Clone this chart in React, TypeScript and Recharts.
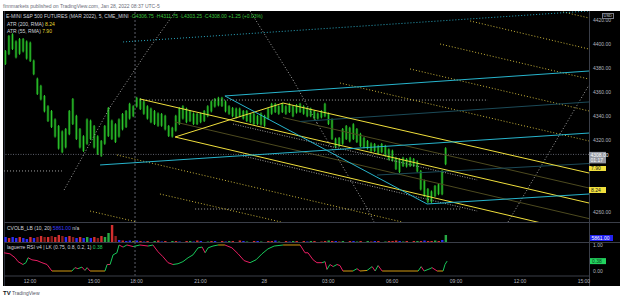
import React from 'react';
import { ComposedChart, Bar, Line, XAxis, YAxis, ReferenceLine, Cell } from 'recharts';

const FONT = '"Liberation Sans", Arial, Helvetica, sans-serif';

// ---------- time axis: hours from 12:00 Jan 27 (17:00-18:00 break removed)
const timeTicks = [0, 3, 5, 8, 11, 14, 17, 20, 23, 26];
const timeTickLabels = ['12:00', '15:00', '18:00', '21:00', '28', '03:00', '06:00', '09:00', '12:00', '15:00'];
const timeDomain: [number, number] = [-1.22, 26.24];
const firstBarHour = -7 / 6; // 10:50
const barStepHours = 1 / 6; // 10-minute bars
const crosshairHour = 4.93;

// ---------- price bars
const barHighs = [
  4395, 4407.5, 4409, 4403, 4405, 4405, 4403, 4402, 4387, 4372,
  4366, 4357.5, 4349, 4345, 4338, 4332.5, 4328, 4330, 4345, 4355,
  4341, 4330, 4324, 4338, 4337, 4332.5, 4324, 4320, 4332.5, 4347.5,
  4337, 4334, 4338, 4342.5, 4345, 4351, 4349, 4356, 4355, 4353,
  4349, 4347, 4345, 4343, 4342.5, 4341, 4332.5, 4331, 4341, 4347.5,
  4349, 4347, 4345, 4343, 4342.5, 4343, 4345, 4349, 4353, 4355,
  4356, 4356, 4353, 4349, 4347.5, 4347, 4347, 4345, 4345, 4342.5,
  4342.5, 4341, 4343, 4341, 4347, 4351, 4351, 4349, 4351, 4349,
  4351, 4349, 4350, 4351, 4349, 4347.5, 4347, 4345, 4343, 4345,
  4351, 4343, 4338, 4322, 4322.5, 4330, 4332.5, 4331, 4334, 4330,
  4326, 4322.5, 4320, 4318, 4317.5, 4316, 4317.5, 4316, 4313, 4312,
  4306, 4305, 4306, 4305, 4306, 4305, 4303, 4295, 4287, 4280,
  4278, 4282.5, 4284, 4295, 4314,
];
const barLows = [
  4382.5, 4390.75, 4395, 4388, 4391, 4393, 4387, 4385, 4374, 4357.5,
  4353, 4343, 4335, 4330, 4322, 4312, 4309, 4313, 4324, 4332.5,
  4320, 4313, 4310, 4316, 4320, 4313, 4307.5, 4306, 4316, 4322.5,
  4320, 4317.5, 4322, 4328, 4330, 4337, 4339, 4347, 4345, 4341,
  4337, 4334, 4332.5, 4331, 4331, 4328, 4322.5, 4322, 4327, 4332.5,
  4337, 4334, 4335, 4332.5, 4332.5, 4334, 4335, 4339, 4343, 4347,
  4348, 4347.5, 4343, 4341, 4339, 4338, 4339, 4337, 4335, 4334,
  4332.5, 4332.5, 4332, 4331, 4337, 4341, 4342.5, 4341, 4342.5, 4341,
  4342.5, 4339, 4342, 4342.5, 4341, 4339, 4339, 4337, 4337, 4338,
  4339, 4332.5, 4320, 4313, 4314, 4316, 4320, 4318, 4320, 4317.5,
  4314, 4313, 4312, 4310, 4310, 4307.5, 4309, 4306, 4303, 4302,
  4295, 4292.5, 4297.5, 4297, 4297.5, 4297.5, 4293, 4278, 4272.5, 4267.5,
  4267.5, 4272.5, 4274, 4274, 4299,
];
const lastClose = 4308;
// 4280 and 4300 are hidden behind the ATR / last-price badges in the reference
const priceTicks = [4260, 4320, 4340, 4360, 4380, 4400, 4420];
const priceDomain: [number, number] = [4251.67, 4427.5];
const atr200 = 8.24;
const atr55 = 7.9;

// ---------- CVOLB volume pane
const volumeValues = [
  5, 4, 5, 4, 5, 4, 3, 5, 4, 5,
  6, 5, 5, 6, 5, 7, 6, 5, 6, 5,
  4, 5, 4, 5, 4, 5, 4, 6, 5, 9,
  17, 6, 2, 1.5, 1, 1.5, 1, 1.5, 1, 0.5,
  1, 0, 1, 1.5, 0.5, 1, 0, 1, 1, 0.5,
  0, 1, 1, 0.5, 1.5, 1, 0, 0.5, 1, 1,
  0, 1, 0.5, 1, 1, 0, 1.5, 1, 0.5, 0,
  1, 1, 0.5, 0, 1, 1, 1.5, 0.5, 0, 1,
  0.5, 1, 1, 0, 1, 0.5, 1, 1, 0, 0.5,
  1, 1.5, 1, 1, 0.5, 1, 0, 1, 1, 0.5,
  1, 0, 1, 0.5, 1, 1, 0, 0.5, 1, 1,
  1.5, 1, 0.5, 1, 0, 1, 1, 1, 1.5, 1,
  1, 1.5, 1, 2, 7,
];
// n = neutral, u = up, d = down, s = strong down, w = weak
const volumeStates = [
  'n', 'd', 'n', 'n', 'd', 'n', 'n', 'd', 'n', 's',
  'd', 's', 'd', 's', 'd', 'd', 's', 'n', 'd', 's',
  'n', 'd', 'n', 'u', 'n', 'd', 's', 'd', 'u', 'u',
  'd', 's', 'n', 'd', 'n', 'n', 'w', 'n', 'd', 'n',
  'd', 'n', 'u', 'd', 'n', 'd', 'n', 'u', 'd', 'n',
  'n', 'd', 'u', 'n', 'd', 'n', 'n', 'u', 'd', 'n',
  'n', 'd', 'n', 'u', 'd', 'n', 'd', 'n', 'u', 'n',
  'd', 'n', 'u', 'n', 'd', 'd', 'n', 'u', 'n', 'd',
  'n', 'u', 'd', 'n', 'd', 'n', 'u', 'd', 'n', 'd',
  'd', 'u', 'd', 'n', 'd', 'u', 'n', 'd', 'n', 'u',
  'd', 'n', 'u', 'd', 'n', 'd', 'n', 'u', 'd', 'd',
  'd', 'n', 'u', 'd', 'n', 'd', 'u', 'd', 'n', 'd',
  'd', 'u', 'd', 'n', 'u',
];
const volumeLast = 5861;

// ---------- Laguerre RSI pane
const rsiTimes = [
  -1.22, -0.94, -0.7, -0.56, -0.33, -0.19, -0.09, 0.09, 0.33, 0.56,
  0.8, 1.03, 1.97, 2.11, 2.25, 2.44, 2.58, 2.68, 2.82, 3.52,
  3.62, 3.76, 3.9, 4.08, 4.18, 4.37, 4.55, 4.84, 5.16, 5.54,
  5.77, 6.01, 6.24, 6.48, 6.71, 6.95, 7.18, 7.42, 7.65, 7.89,
  8.08, 8.22, 8.36, 8.59, 8.83, 9.15, 9.48, 9.77, 10.05, 10.33,
  10.61, 10.89, 11.17, 11.46, 11.88, 12.68, 12.91, 13.05, 13.29, 13.47,
  13.71, 13.85, 13.94, 14.08, 14.23, 14.41, 14.55, 14.69, 15.16, 15.35,
  15.49, 15.82, 16.06, 16.2, 16.34, 16.53, 18.22, 18.36, 18.5, 18.78,
  18.87, 19.11, 19.39, 19.48, 19.58,
];
const rsiValues = [
  0.7, 0.66, 0.51, 0.36, 0.25, 0.32, 0.51, 0.43, 0.4, 0.32,
  0.25, 0, 0, 0.13, 0.09, 0.15, 0.02, 0.13, 0, 0,
  0.25, 0.25, 0.62, 0.7, 1, 0.92, 1, 0.94, 1, 0.96,
  1, 0.74, 0.55, 0.32, 0.25, 0.28, 0.36, 0.51, 0.62, 0.89,
  0.92, 0.7, 0.89, 0.96, 1, 1, 0.89, 0.66, 0.4, 0.32,
  0.43, 0.66, 0.85, 0.96, 1, 1, 0.7, 0.7, 0.43, 0.32,
  0.32, 0.36, 0.06, 0.25, 0.17, 0.25, 0.21, 0, 0, 0.09,
  0, 0.02, 0.17, 0, 0.21, 0, 0, 0.17, 0, 0.09,
  0.13, 0, 0, 0.25, 0.38,
];
// 0.50 is hidden behind the RSI value badge in the reference
const rsiTicks = [0, 1];
const rsiDomain: [number, number] = [-0.192, 1.115];

// ---------- drawings: [hourA, priceA, hourB, priceB]
const pitchforkLines = [
  [5.16, 4354.2, 26.24, 4267.5],
  [6.81, 4322.5, 26.24, 4241.5],
  [11.88, 4350.8, 26.24, 4292.5],
  [6.81, 4322.5, 11.88, 4350.8],
];
const pitchforkMidLines = [
  [11.88, 4338.7, 26.24, 4280.0],
  [6.81, 4335.0, 26.24, 4254.5],
];
const pitchforkShadowLines = [
  [9.53, 4333.3, 20.99, 4286.7],
  [10.0, 4306.7, 20.99, 4260.8],
];
const cyanLines = [
  [9.15, 4356.7, 26.24, 4377.5],
  [3.29, 4299.2, 26.24, 4325.8],
  [9.15, 4356.7, 18.64, 4266.7],
  [18.64, 4266.7, 26.24, 4275.0],
];
const cyanMidLines = [
  [12.68, 4335.4, 26.24, 4351.7],
  [16.29, 4290.8, 26.24, 4300.4],
];
const cyanDottedLines = [[4.37, 4401.7, 26.24, 4427.5]];
const whiteDottedLines = [
  [5.16, 4353.3, 21.5, 4353.3],
  [7.75, 4262.5, 20.19, 4262.5],
  [-1.22, 4294.2, 1.5, 4294.2],
  [1.6, 4278.3, 3.76, 4347.5],
  [3.76, 4347.5, 5.54, 4395.0],
  [5.54, 4395.0, 6.85, 4427.5],
  [10.33, 4427.5, 12.35, 4370.0],
  [12.35, 4370.0, 13.47, 4334.2],
  [13.47, 4334.2, 14.69, 4297.5],
  [14.69, 4297.5, 15.82, 4263.3],
  [15.82, 4263.3, 16.15, 4251.7],
  [22.44, 4251.7, 26.24, 4365.8],
];
const yellowDottedLines = [
  [25.02, 4426.7, 26.24, 4421.7],
  [20.66, 4419.2, 26.24, 4395.8],
  [19.25, 4400.0, 26.24, 4370.8],
  [17.84, 4379.2, 26.24, 4344.2],
  [14.55, 4367.5, 26.24, 4319.2],
  [4.08, 4307.5, 17.46, 4251.7],
  [6.1, 4275.0, 11.78, 4251.7],
  [2.82, 4260.8, 5.02, 4251.7],
];

// ---------- derived rows
const candleRows = barHighs.map((h, i) => ({
  t: firstBarHour + i * barStepHours,
  range: [barLows[i], h],
}));
const volumeRows = volumeValues.map((v, i) => ({
  t: firstBarHour + i * barStepHours,
  vol: v,
  state: volumeStates[i],
}));
const rsiRows: any[] = [];
for (let i = 0; i < rsiValues.length - 1; i++) {
  const a = rsiValues[i];
  const b = rsiValues[i + 1];
  const flat = (a <= 0.02 && b <= 0.02) || (a >= 0.98 && b >= 0.98);
  const key = flat ? 'flat' : b > a ? 'up' : 'down';
  rsiRows.push({ t: rsiTimes[i], [key]: a });
  rsiRows.push({ t: rsiTimes[i + 1], [key]: b });
  rsiRows.push({ t: rsiTimes[i + 1] });
}
const lastRsi = rsiValues[rsiValues.length - 1];

const volumeColor: Record<string, string> = {
  n: '#2c2cf5',
  u: '#27a844',
  d: '#d32f2f',
  s: '#8e1b1b',
  w: '#8a7a20',
};

const AXIS_TEXT = '#b2b5be';
const SEP = '#3a3e48';

const CandleShape = (props: any) => {
  const { x, y, width, height } = props;
  if (x == null || y == null || isNaN(y)) return null;
  const top = height < 0 ? y + height : y;
  const h = Math.max(Math.abs(height), 1);
  const cx = x + width / 2;
  return (
    <g>
      <rect x={cx - 1.3} y={top + 1} width={2.6} height={Math.max(h - 2, 1)} fill="#0e5c0e" />
      <rect x={cx - 0.5} y={top} width={1} height={h} fill="#2fc82f" />
    </g>
  );
};

const PriceBadge = (props: any) => {
  const vb = props.viewBox;
  if (!vb) return null;
  const x = vb.x + vb.width;
  const y = vb.y;
  return (
    <g>
      <rect x={x} y={y - 2.5} width={17} height={11.5} fill="#9598a1" />
      <text x={x + 1.5} y={y + 2.6} fontSize={5} fill="#ffffff" fontFamily={FONT}>{lastClose.toFixed(2)}</text>
      <text x={x + 1.5} y={y + 7.6} fontSize={5} fill="#ffffff" fontFamily={FONT}>01:17</text>
    </g>
  );
};

const RsiBadge = (props: any) => {
  const vb = props.viewBox;
  if (!vb) return null;
  const x = vb.x + vb.width;
  const y = vb.y;
  return (
    <g>
      <rect x={x + 1} y={y - 3} width={16} height={6} fill="#22d35e" />
      <text x={x + 3} y={y + 1.8} fontSize={5} fill="#0b3d1a" fontFamily={FONT}>{lastRsi.toFixed(2)}</text>
    </g>
  );
};

const seg = (s: number[], key: string, stroke: string, dash?: string, width = 1) => (
  <ReferenceLine
    key={key}
    segment={[{ x: s[0], y: s[1] }, { x: s[2], y: s[3] }]}
    stroke={stroke}
    strokeWidth={width}
    strokeDasharray={dash}
    ifOverflow="hidden"
  />
);

const layer: React.CSSProperties = { position: 'absolute', left: 0, top: 0 };

const txt = (left: number, top: number, children: React.ReactNode, extra: React.CSSProperties = {}) => (
  <div
    style={{
      position: 'absolute',
      left,
      top,
      fontSize: 5,
      lineHeight: '6px',
      fontFamily: FONT,
      whiteSpace: 'nowrap',
      color: '#d1d4dc',
      ...extra,
    }}
  >
    {children}
  </div>
);

export default function App() {
  return (
    <div style={{ position: 'absolute', left: 0, top: 0, width: 625, height: 301, background: '#ffffff', overflow: 'hidden' }}>
      {/* black chart panel */}
      <div style={{ position: 'absolute', left: 3, top: 11, width: 617, height: 275, background: '#000000' }} />
      {/* pane separators & borders */}
      <div style={{ position: 'absolute', left: 4, top: 11, width: 1, height: 275, background: '#2a2e39' }} />
      <div style={{ position: 'absolute', left: 4, top: 222, width: 616, height: 1, background: SEP }} />
      <div style={{ position: 'absolute', left: 4, top: 242, width: 616, height: 1, background: SEP }} />
      <div style={{ position: 'absolute', left: 589, top: 11, width: 1, height: 275, background: SEP }} />

      {/* main price pane */}
      <div style={layer}>
        <ComposedChart width={625} height={301} data={candleRows} margin={{ top: 11, right: 5, bottom: 79, left: 4 }}>
          <XAxis type="number" dataKey="t" domain={timeDomain} allowDataOverflow hide />
          <YAxis
            orientation="right"
            width={31}
            domain={priceDomain}
            allowDataOverflow
            ticks={priceTicks}
            interval={0}
            tickFormatter={(v: number) => v.toFixed(2)}
            tick={{ fontSize: 5, fill: AXIS_TEXT, fontFamily: FONT }}
            tickLine={false}
            axisLine={false}
            tickSize={0}
            tickMargin={4}
          />
          <ReferenceLine x={crosshairHour} stroke="#5d606b" strokeDasharray="2 2" ifOverflow="hidden" />
          {whiteDottedLines.map((s, i) => seg(s, 'wd' + i, '#a0a0a0', '1 2'))}
          {yellowDottedLines.map((s, i) => seg(s, 'yd' + i, '#c9b43a', '1 2'))}
          {cyanDottedLines.map((s, i) => seg(s, 'cd' + i, '#2aa7bf', '1 2'))}
          {pitchforkShadowLines.map((s, i) => seg(s, 'ps' + i, '#9a9a9a', '1 1.5'))}
          {pitchforkMidLines.map((s, i) => seg(s, 'pm' + i, '#4d4a1f'))}
          {cyanMidLines.map((s, i) => seg(s, 'cm' + i, '#1b4a58'))}
          <ReferenceLine
            y={lastClose}
            stroke="#5d606b"
            strokeDasharray="1 1.5"
            ifOverflow="visible"
            label={<PriceBadge />}
          />
          <Bar dataKey="range" barSize={2} shape={<CandleShape />} isAnimationActive={false} />
          {pitchforkLines.map((s, i) => seg(s, 'pf' + i, '#f0df3c'))}
          {cyanLines.map((s, i) => seg(s, 'cy' + i, '#27b4cc'))}
        </ComposedChart>
      </div>

      {/* volume pane */}
      <div style={layer}>
        <ComposedChart width={625} height={301} data={volumeRows} margin={{ top: 222, right: 36, bottom: 59, left: 4 }}>
          <XAxis type="number" dataKey="t" domain={timeDomain} allowDataOverflow hide />
          <YAxis domain={[0, 20]} hide allowDataOverflow />
          <ReferenceLine x={crosshairHour} stroke="#5d606b" strokeDasharray="2 2" ifOverflow="hidden" />
          <Bar dataKey="vol" barSize={2.4} isAnimationActive={false}>
            {volumeRows.map((r, i) => (
              <Cell key={i} fill={volumeColor[r.state]} />
            ))}
          </Bar>
        </ComposedChart>
      </div>

      {/* RSI pane + time axis */}
      <div style={layer}>
        <ComposedChart width={625} height={301} data={rsiRows} margin={{ top: 242, right: 5, bottom: 15, left: 4 }}>
          <XAxis
            type="number"
            dataKey="t"
            domain={timeDomain}
            allowDataOverflow
            ticks={timeTicks}
            interval={0}
            height={10}
            tickFormatter={(v: number) => timeTickLabels[timeTicks.indexOf(v)] ?? ''}
            tick={{ fontSize: 5, fill: AXIS_TEXT, fontFamily: FONT }}
            tickLine={false}
            tickSize={0}
            tickMargin={3}
            axisLine={{ stroke: SEP }}
          />
          <YAxis
            orientation="right"
            width={31}
            domain={rsiDomain}
            allowDataOverflow
            ticks={rsiTicks}
            interval={0}
            tickFormatter={(v: number) => v.toFixed(2)}
            tick={{ fontSize: 5, fill: AXIS_TEXT, fontFamily: FONT }}
            tickLine={false}
            axisLine={false}
            tickSize={0}
            tickMargin={4}
          />
          <ReferenceLine x={crosshairHour} stroke="#5d606b" strokeDasharray="2 2" ifOverflow="hidden" />
          <Line dataKey="flat" stroke="#d39a12" strokeWidth={1} dot={false} connectNulls={false} isAnimationActive={false} />
          <Line dataKey="down" stroke="#e91e63" strokeWidth={1} dot={false} connectNulls={false} isAnimationActive={false} />
          <Line dataKey="up" stroke="#18c85a" strokeWidth={1} dot={false} connectNulls={false} isAnimationActive={false} />
          <ReferenceLine y={lastRsi} stroke="none" ifOverflow="visible" label={<RsiBadge />} />
        </ComposedChart>
      </div>

      {/* header */}
      {txt(3, 3, 'finnmarkets published on TradingView.com, Jan 28, 2022 08:37 UTC-5', { color: '#6a6d78' })}

      {/* legends */}
      {txt(6, 13, (
        <span>
          E-MINI S&amp;P 500 FUTURES (MAR 2022), 5, CME_MINI{' '}
          <span style={{ color: '#3cc43c' }}>·O4306.75 ·H4311.75 ·L4303.25 ·C4308.00 +1.25 (+0.03%)</span>
        </span>
      ))}
      {txt(7, 21, (<span>ATR (200, RMA) <span style={{ color: '#e8d832' }}>{atr200.toFixed(2)}</span></span>))}
      {txt(7, 28, (<span>ATR (55, RMA) <span style={{ color: '#e8d832' }}>{atr55.toFixed(2)}</span></span>))}
      {txt(7, 225, (<span>CVOLB_LB (10, 20) <span style={{ color: '#3b3bff' }}>{volumeLast.toFixed(2)}</span> n/a</span>))}
      {txt(7, 244, (<span>laguerre RSI v4 | LK (0.75, 0.8, 0.2, 1) <span style={{ color: '#22d35e' }}>{lastRsi.toFixed(2)}</span></span>))}

      {/* axis badges */}
      <div style={{ position: 'absolute', left: 602, top: 13, width: 12, height: 6, border: '0.5px solid #787b86', background: '#000', boxSizing: 'border-box' }} />
      {txt(603.5, 13, 'USD', { fontSize: 4, color: '#d1d4dc' })}
      <div style={{ position: 'absolute', left: 589, top: 165.5, width: 17, height: 5.5, background: '#f0df3c' }} />
      {txt(591, 165.3, atr55.toFixed(2), { color: '#222' })}
      <div style={{ position: 'absolute', left: 589, top: 187, width: 17, height: 6, background: '#f0df3c' }} />
      {txt(591, 187, atr200.toFixed(2), { color: '#222' })}
      <div style={{ position: 'absolute', left: 590, top: 235, width: 23, height: 5.5, background: '#2121f0' }} />
      {txt(591.5, 234.8, volumeLast.toFixed(2), { color: '#ffffff' })}

      {/* footer logo */}
      {txt(3, 290, (
        <span>
          <b style={{ color: '#131722', fontSize: 6 }}>TV</b> <span style={{ color: '#50535e' }}>TradingView</span>
        </span>
      ))}
    </div>
  );
}
